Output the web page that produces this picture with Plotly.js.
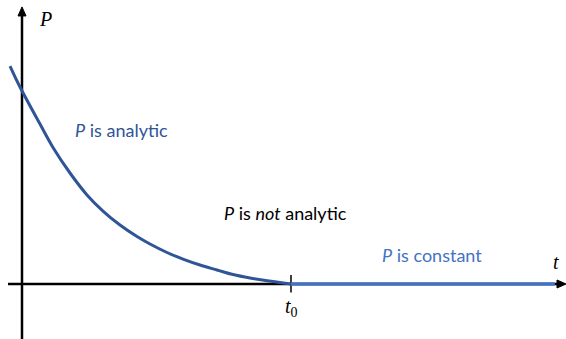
<!DOCTYPE html>
<html>
<head>
<meta charset="utf-8">
<script src="https://cdn.plot.ly/plotly-3.0.1.min.js"></script>
<style>
  html, body { margin: 0; padding: 0; background: #fff; }
  #plot { width: 566px; height: 339px; }
</style>
</head>
<body>
<div id="plot"></div>
<script>
  // values (t0 = 1, P(0) = 1)
  var t0 = 1;
  var curveT = [-0.0446, -0.0074, 0.0669, 0.1152, 0.1784, 0.2416, 0.3011, 0.3643, 0.4275,
                0.4758, 0.539, 0.5985, 0.6617, 0.7249, 0.7844, 0.8476, 0.9108, 1];
  var curveP = [1.135, 1.026, 0.833, 0.711, 0.578, 0.464, 0.38, 0.307, 0.247,
                0.208, 0.164, 0.13, 0.099, 0.073, 0.049, 0.031, 0.017, 0];
  var flatT = [1, 1.981];
  var flatP = [0, 0];

  var darkBlue = '#2F5597';
  var lightBlue = '#4472C4';
  var textFont = 'Lato, "Open Sans", sans-serif';
  var mathFont = '"Liberation Serif", "DejaVu Serif", serif';

  var curve = {
    x: curveT, y: curveP, type: 'scatter', mode: 'lines',
    line: {color: darkBlue, width: 3, shape: 'spline', smoothing: 1},
    hoverinfo: 'skip'
  };
  var flat = {
    x: flatT, y: flatP, type: 'scatter', mode: 'lines',
    line: {color: lightBlue, width: 3.5},
    hoverinfo: 'skip'
  };

  function line(x0, y0, x1, y1, w) {
    return {type: 'line', xref: 'x', yref: 'y', x0: x0, y0: y0, x1: x1, y1: y1,
            line: {color: '#000', width: w}, layer: 'below'};
  }

  function label(x, y, text, color) {
    return {
      x: x, y: y, xref: 'x', yref: 'y', text: text, showarrow: false,
      xanchor: 'left', yanchor: 'middle',
      font: {family: textFont, size: 18, color: color}
    };
  }

  function mathLabel(x, y, text) {
    return {x: x, y: y, xref: 'x', yref: 'y', text: text, showarrow: false,
            font: {family: mathFont, size: 20, color: '#000'}};
  }

  var layout = {
    width: 566, height: 339,
    margin: {l: 0, r: 0, t: 0, b: 0},
    showlegend: false,
    paper_bgcolor: '#fff', plot_bgcolor: '#fff',
    xaxis: {range: [-0.0818, 2.0223], visible: false, fixedrange: true},
    yaxis: {range: [-0.2865, 1.479], visible: false, fixedrange: true},
    shapes: [
      // axes
      line(-0.052, 0, 1.995, 0, 2.5),
      line(0, -0.2865, 0, 1.41, 2.5),
      // arrowheads
      {type: 'path', xref: 'x', yref: 'y', path: 'M 2.0223 0 L 1.9888 0.0208 L 1.9888 -0.0208 Z',
       fillcolor: '#000', line: {color: '#000', width: 1}},
      {type: 'path', xref: 'x', yref: 'y', path: 'M 0 1.443 L 0.0149 1.396 L -0.0149 1.396 Z',
       fillcolor: '#000', line: {color: '#000', width: 1}},
      // tick at t0
      line(t0, -0.044, t0, 0.047, 1.5)
    ],
    annotations: [
      label(0.19, 0.802, '<i>P</i> is analytic', darkBlue),
      label(0.743, 0.37, '<i>P</i> is <i>not</i> analytic', '#000'),
      label(1.33, 0.151, '<i>P</i> is constant', lightBlue),
      mathLabel(0.089, 1.38, '<i>P</i>'),
      mathLabel(1.985, 0.115, '<i>t</i>'),
      mathLabel(t0, -0.125, '<i>t</i><sub>0</sub>')
    ]
  };

  Plotly.newPlot('plot', [flat, curve], layout, {staticPlot: true, displayModeBar: false});
</script>
</body>
</html>
